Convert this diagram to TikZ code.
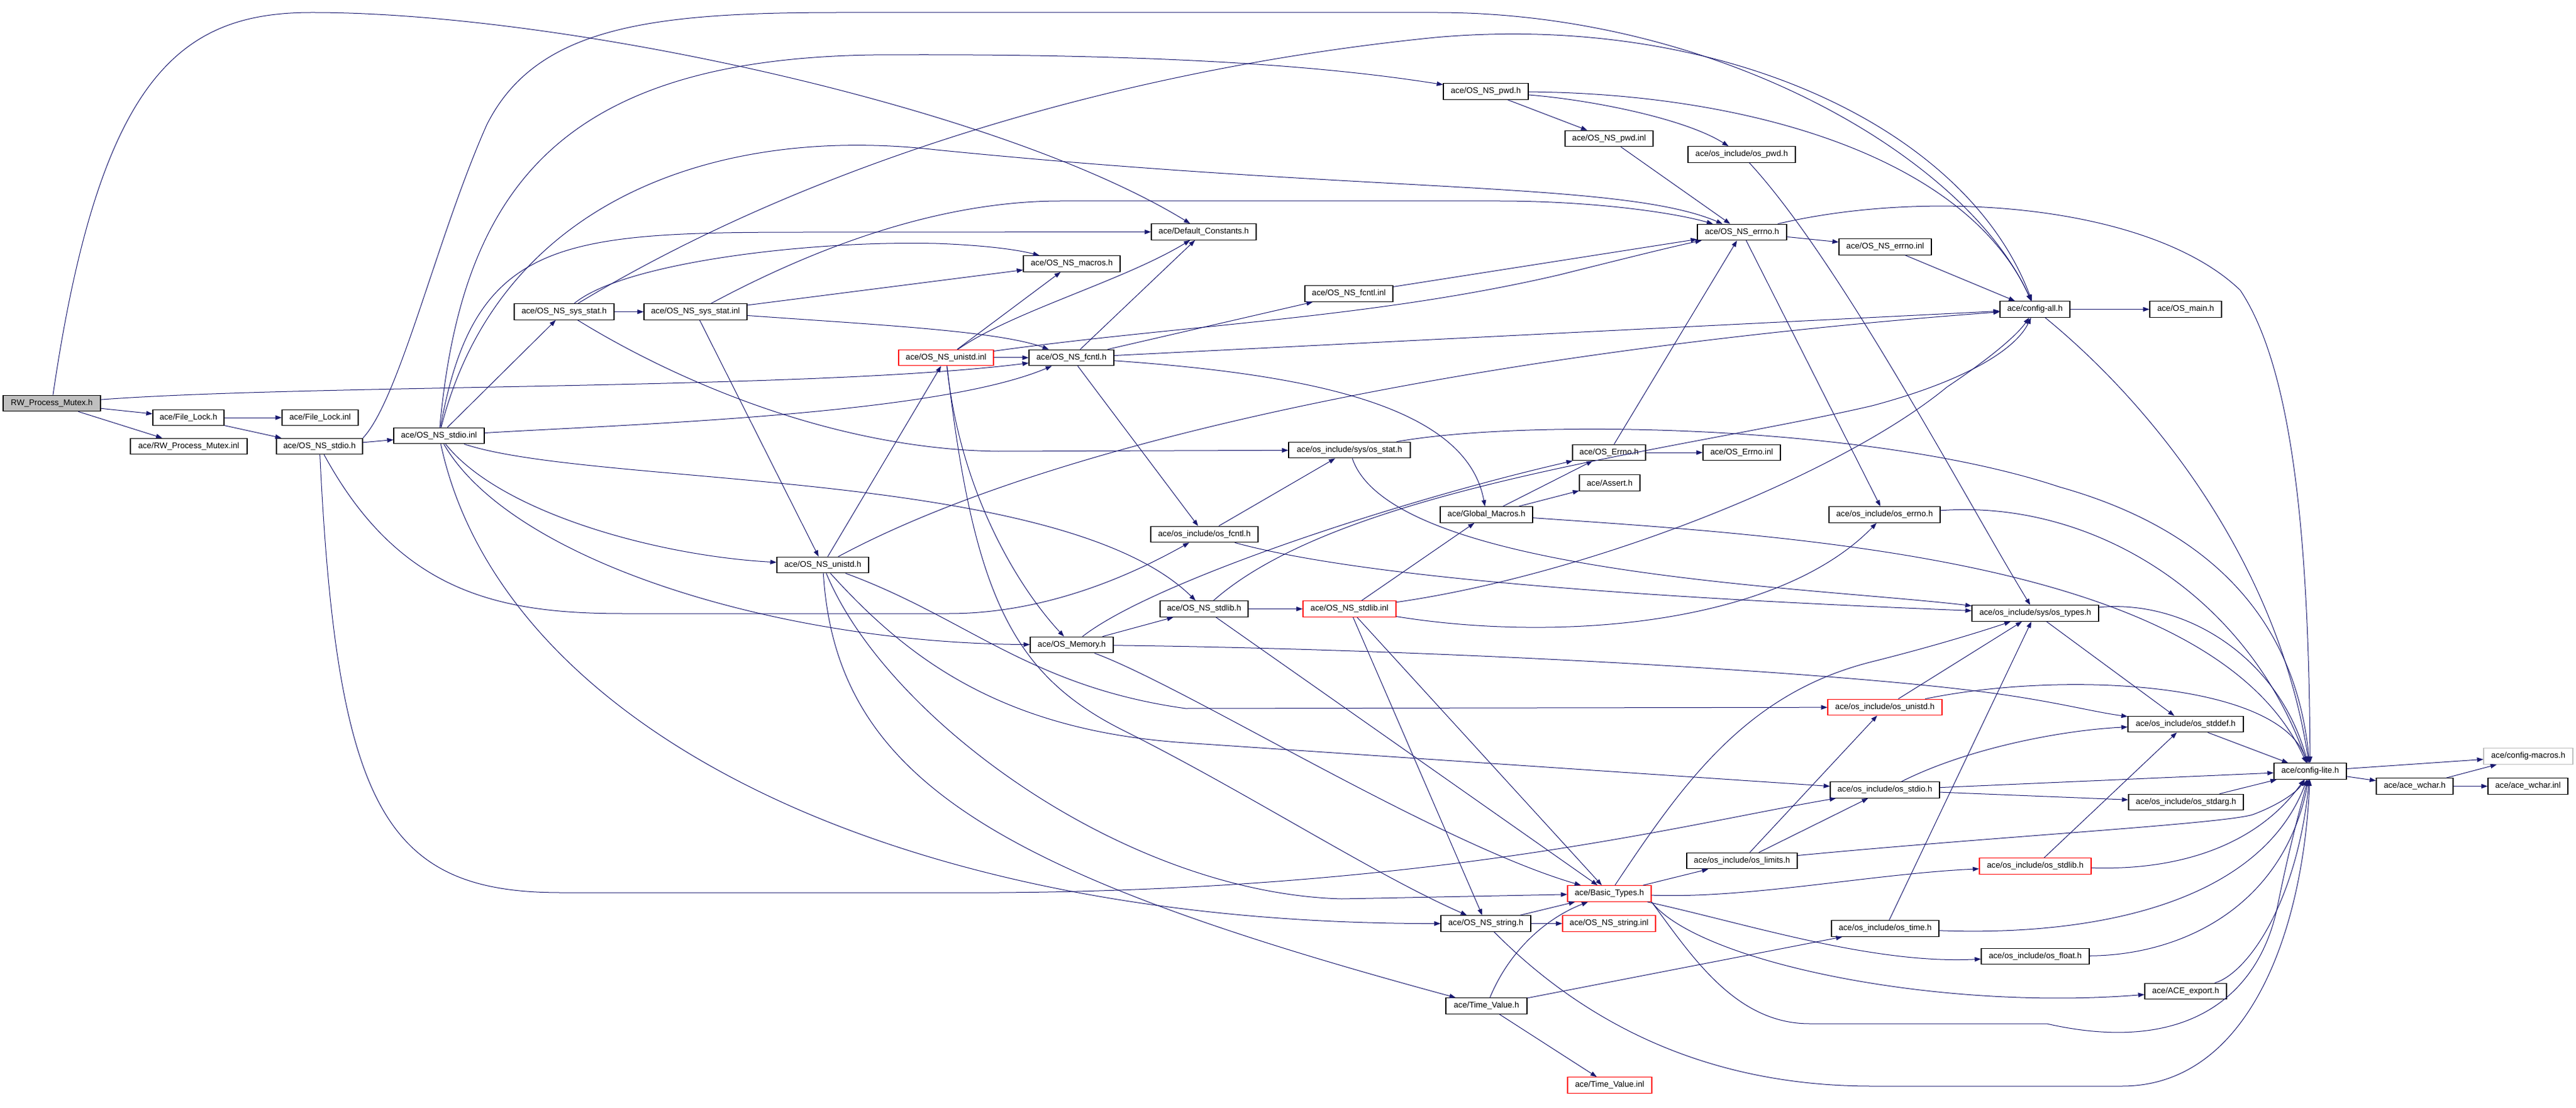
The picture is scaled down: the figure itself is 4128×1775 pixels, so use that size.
\documentclass[tikz,border=0pt]{standalone}
\usepackage{fontspec}
\setmainfont{Liberation Sans}
\usetikzlibrary{arrows.meta}
\definecolor{edgeblue}{RGB}{25,25,112}
\definecolor{rootgray}{RGB}{191,191,191}

\begin{document}
\begin{tikzpicture}[x=0.5pt,y=-0.5pt,>={Triangle[length=5pt,width=3.6pt]},
   file/.style={draw=black,line width=0.6pt,rectangle,inner sep=0pt,minimum height=12.75pt,font=\fontsize{6.6pt}{7pt}\selectfont},
   redfile/.style={file,draw=red},
   rootfile/.style={file,fill=rootgray},
   greyfile/.style={file,draw=rootgray},
   every edge/.style={draw=edgeblue,line width=0.5pt},
   inc/.style={->,draw=edgeblue,line width=0.5pt}]
   \useasboundingbox (0,0) rectangle (4128,1775);
   \node[rootfile,minimum width=78pt] (0) at (83,646) {RW\_Process\_Mutex.h};
   \node[file,minimum width=57pt] (1) at (302,669) {ace/File\_Lock.h};
   \node[file,minimum width=61pt] (2) at (513,669) {ace/File\_Lock.inl};
   \node[file,minimum width=93.5pt] (3) at (302.5,715) {ace/RW\_Process\_Mutex.inl};
   \node[file,minimum width=69pt] (4) at (512,715) {ace/OS\_NS\_stdio.h};
   \node[file,minimum width=72.5pt] (5) at (703.5,698) {ace/OS\_NS\_stdio.inl};
   \node[file,minimum width=80pt] (6) at (904,499.5) {ace/OS\_NS\_sys\_stat.h};
   \node[file,minimum width=82.5pt] (7) at (1114.5,499.5) {ace/OS\_NS\_sys\_stat.inl};
   \node[file,minimum width=77.5pt] (8) at (1717.5,422.5) {ace/OS\_NS\_macros.h};
   \node[file,minimum width=84pt] (9) at (1929,371.5) {ace/Default\_Constants.h};
   \node[redfile,minimum width=76pt] (10) at (1516,573) {ace/OS\_NS\_unistd.inl};
   \node[file,minimum width=68pt] (11) at (1717,573) {ace/OS\_NS\_fcntl.h};
   \node[file,minimum width=70.5pt] (12) at (2161.5,470.5) {ace/OS\_NS\_fcntl.inl};
   \node[file,minimum width=68pt] (13) at (2381,146.5) {ace/OS\_NS\_pwd.h};
   \node[file,minimum width=70.5pt] (14) at (2578.5,222) {ace/OS\_NS\_pwd.inl};
   \node[file,minimum width=86pt] (15) at (2791,247.5) {ace/os\_include/os\_pwd.h};
   \node[file,minimum width=71.5pt] (16) at (2791.5,372) {ace/OS\_NS\_errno.h};
   \node[file,minimum width=74pt] (17) at (3021,395.5) {ace/OS\_NS\_errno.inl};
   \node[file,minimum width=56pt] (18) at (3261,495.5) {ace/config-all.h};
   \node[file,minimum width=57.5pt] (19) at (3502.5,495.5) {ace/OS\_main.h};
   \node[file,minimum width=73.5pt] (20) at (1318.5,905) {ace/OS\_NS\_unistd.h};
   \node[file,minimum width=97.5pt] (21) at (2162.5,721) {ace/os\_include/sys/os\_stat.h};
   \node[file,minimum width=86pt] (22) at (1930,856) {ace/os\_include/os\_fcntl.h};
   \node[file,minimum width=58.5pt] (23) at (2578.5,725) {ace/OS\_Errno.h};
   \node[file,minimum width=62pt] (24) at (2791,725) {ace/OS\_Errno.inl};
   \node[file,minimum width=48.5pt] (25) at (2579.5,773.5) {ace/Assert.h};
   \node[file,minimum width=74pt] (26) at (2382,824.5) {ace/Global\_Macros.h};
   \node[file,minimum width=89pt] (27) at (3020,824.5) {ace/os\_include/os\_errno.h};
   \node[file,minimum width=70.5pt] (28) at (1929.5,975.5) {ace/OS\_NS\_stdlib.h};
   \node[redfile,minimum width=74.5pt] (29) at (2162.5,975.5) {ace/OS\_NS\_stdlib.inl};
   \node[file,minimum width=101.5pt] (30) at (3261.5,982.5) {ace/os\_include/sys/os\_types.h};
   \node[file,minimum width=66.5pt] (31) at (1717.5,1033) {ace/OS\_Memory.h};
   \node[redfile,minimum width=91.5pt] (32) at (3020.5,1133) {ace/os\_include/os\_unistd.h};
   \node[file,minimum width=92.5pt] (33) at (3502.5,1160) {ace/os\_include/os\_stddef.h};
   \node[file,minimum width=58pt] (34) at (3702,1235.5) {ace/config-lite.h};
   \node[greyfile,minimum width=71.5pt] (35) at (4051.5,1211.5) {ace/config-macros.h};
   \node[file,minimum width=61.5pt] (36) at (3869.5,1259.5) {ace/ace\_wchar.h};
   \node[file,minimum width=64pt] (37) at (4051,1259.5) {ace/ace\_wchar.inl};
   \node[file,minimum width=87.5pt] (38) at (3020.5,1265.5) {ace/os\_include/os\_stdio.h};
   \node[file,minimum width=92pt] (39) at (3503,1285) {ace/os\_include/os\_stdarg.h};
   \node[file,minimum width=88.5pt] (40) at (2791.5,1379) {ace/os\_include/os\_limits.h};
   \node[redfile,minimum width=89.5pt] (41) at (3261.5,1387.5) {ace/os\_include/os\_stdlib.h};
   \node[redfile,minimum width=67pt] (42) at (2579,1431.5) {ace/Basic\_Types.h};
   \node[file,minimum width=72pt] (43) at (2381,1479.5) {ace/OS\_NS\_string.h};
   \node[redfile,minimum width=74.5pt] (44) at (2578.5,1479.5) {ace/OS\_NS\_string.inl};
   \node[file,minimum width=86pt] (45) at (3021,1487.5) {ace/os\_include/os\_time.h};
   \node[file,minimum width=86.5pt] (46) at (3261.5,1532) {ace/os\_include/os\_float.h};
   \node[file,minimum width=65.5pt] (47) at (3502.5,1588) {ace/ACE\_export.h};
   \node[file,minimum width=65pt] (48) at (2382,1611.5) {ace/Time\_Value.h};
   \node[redfile,minimum width=67.5pt] (49) at (2579.5,1738.5) {ace/Time\_Value.inl};
   \path[->]
    (0) edge (1) (0) edge (3) (1) edge (2) (1) edge (4) (4) edge (5)
    (5) edge (6) (6) edge (7) (7) edge (8) (7) edge (20) (20) edge (10)
    (10) edge (11) (10) edge (8) (11) edge (12) (11) edge (9) (11) edge (22)
    (11) edge (18) (12) edge (16) (13) edge (14) (14) edge (16) (16) edge (17)
    (16) edge (27) (17) edge (18) (18) edge (19) (23) edge (24) (23) edge (16)
    (26) edge (23) (26) edge (25) (28) edge (29) (28) edge (42) (29) edge (26)
    (29) edge (43) (29) edge (42) (31) edge (28) (22) edge (21) (32) edge (30)
    (30) edge (33) (33) edge (34) (38) edge (34) (38) edge (39) (39) edge (34)
    (40) edge (32) (40) edge (38) (41) edge (33) (45) edge (30) (42) edge (40)
    (43) edge (42) (43) edge (44) (48) edge (45) (48) edge (49) (34) edge (35)
    (34) edge (36) (36) edge (37) (36) edge (35);
   \draw[inc] (0) .. controls (160,120) and (290,20) .. (500,20) .. controls (900,20) and (1600,170) .. (9);
   \draw[inc] (0) .. controls (500,615) and (1300,625) .. (11);
   \draw[inc] (4.north east) .. controls (640,640) and (700,380) .. (780,200) .. controls (860,40) and (1050,20) .. (1350,20) -- (2300,20) .. controls (2750,20) and (3150,250) .. (18);
   \draw[inc] (4) .. controls (640,950) and (800,983) .. (1000,983) -- (1520,983) .. controls (1700,983) and (1850,900) .. (22);
   \draw[inc] (4) .. controls (540,1300) and (620,1430) .. (900,1430) -- (1600,1430) .. controls (2300,1425) and (2700,1320) .. (38);
   \draw[inc] (5) .. controls (800,820) and (1050,890) .. (20);
   \draw[inc] (5) .. controls (820,900) and (1250,1030) .. (31);
   \draw[inc] (5) .. controls (950,780) and (1700,750) .. (28);
   \draw[inc] (5) .. controls (800,1150) and (1400,1480) .. (43);
   \draw[inc] (5) .. controls (1000,680) and (1500,665) .. (11);
   \draw[inc] (5) .. controls (800,320) and (1150,200) .. (1500,240) .. controls (2200,310) and (2600,290) .. (16);
   \draw[inc] (5) .. controls (740,300) and (900,95) .. (1400,88) .. controls (1900,85) and (2150,110) .. (13);
   \draw[inc] (5) .. controls (760,380) and (900,372) .. (1300,372) -- (9);
   \draw[inc] (6) .. controls (1300,260) and (1800,110) .. (2300,60) .. controls (2750,20) and (3150,200) .. (18);
   \draw[inc] (6) .. controls (1000,420) and (1300,385) .. (1500,390) .. controls (1580,393) and (1630,400) .. (8);
   \draw[inc] (6) .. controls (1100,620) and (1350,720) .. (1600,723) -- (21);
   \draw[inc] (7) .. controls (1300,400) and (1500,322) .. (1700,322) -- (2400,322) .. controls (2550,322) and (2680,340) .. (16);
   \draw[inc] (7) .. controls (1400,520) and (1600,530) .. (11);
   \draw[inc] (10) .. controls (1620,500) and (1800,450) .. (9);
   \draw[inc] (10) .. controls (1900,520) and (2200,510) .. (2500,440) .. controls (2600,415) and (2680,395) .. (16);
   \draw[inc] (10) .. controls (1540,800) and (1640,950) .. (31);
   \draw[inc] (10) .. controls (1560,950) and (1620,1080) .. (1800,1170) .. controls (2000,1270) and (2200,1400) .. (43);
   \draw[inc] (20) .. controls (1700,700) and (2400,560) .. (18);
   \draw[inc] (20) .. controls (1550,990) and (1650,1100) .. (1900,1135) -- (32);
   \draw[inc] (20) .. controls (1450,1050) and (1600,1170) .. (1900,1190) -- (38);
   \draw[inc] (20) .. controls (1420,1150) and (1800,1430) .. (2150,1440) -- (42);
   \draw[inc] (20) .. controls (1340,1250) and (1600,1400) .. (48);
   \draw[inc] (11) .. controls (2100,600) and (2350,650) .. (26);
   \draw[inc] (13) .. controls (2550,160) and (2700,190) .. (15);
   \draw[inc] (13) .. controls (2800,150) and (3150,250) .. (18);
   \draw[inc] (15) .. controls (2950,420) and (3150,800) .. (30);
   \draw[inc] (16) .. controls (3100,300) and (3450,330) .. (3590,465) .. controls (3680,600) and (3700,900) .. (34);
   \draw[inc] (18) .. controls (3450,650) and (3650,900) .. (34);
   \draw[inc] (21) .. controls (2230,920) and (2900,940) .. (30);
   \draw[inc] (21) .. controls (2450,670) and (3000,680) .. (3300,780) .. controls (3550,850) and (3680,1000) .. (34);
   \draw[inc] (22) .. controls (2200,930) and (2700,960) .. (30);
   \draw[inc] (26) .. controls (2900,860) and (3550,900) .. (34);
   \draw[inc] (27) .. controls (3350,800) and (3600,950) .. (34);
   \draw[inc] (28) .. controls (2150,780) and (2700,720) .. (3000,650) .. controls (3150,610) and (3230,560) .. (18);
   \draw[inc] (29) .. controls (2500,1030) and (2850,1000) .. (27);
   \draw[inc] (29) .. controls (2550,920) and (2950,760) .. (3120,620) .. controls (3180,580) and (3230,540) .. (18);
   \draw[inc] (30) .. controls (3500,960) and (3650,1050) .. (34);
   \draw[inc] (31) .. controls (1850,930) and (2250,800) .. (23);
   \draw[inc] (31) .. controls (2300,1040) and (2900,1075) .. (3150,1105) .. controls (3280,1120) and (3350,1140) .. (33);
   \draw[inc] (31) .. controls (1900,1100) and (2300,1350) .. (42);
   \draw[inc] (32) .. controls (3300,1075) and (3650,1090) .. (34);
   \draw[inc] (38) .. controls (3150,1200) and (3300,1170) .. (33);
   \draw[inc] (40) .. controls (3200,1340) and (3560,1320) .. (3610,1305) .. controls (3650,1290) and (3680,1270) .. (34);
   \draw[inc] (41) .. controls (3500,1395) and (3620,1350) .. (34);
   \draw[inc] (42) .. controls (2700,1250) and (2800,1110) .. (3000,1060) .. controls (3100,1035) and (3180,1010) .. (30);
   \draw[inc] (42) .. controls (2800,1440) and (3000,1400) .. (41);
   \draw[inc] (42) .. controls (2800,1480) and (3000,1545) .. (46);
   \draw[inc] (42.south east) .. controls (2720,1540) and (3100,1620) .. (47);
   \draw[inc] (42.south east) .. controls (2710,1530) and (2780,1640) .. (2900,1640) -- (3280,1640) .. controls (3500,1690) and (3620,1600) .. (3650,1450) .. controls (3670,1350) and (3690,1280) .. (34);
   \draw[inc] (43) .. controls (2550,1650) and (2750,1740) .. (3000,1740) -- (3400,1740) .. controls (3600,1740) and (3690,1500) .. (34);
   \draw[inc] (45) .. controls (3350,1500) and (3620,1450) .. (34);
   \draw[inc] (46) .. controls (3500,1530) and (3660,1450) .. (34);
   \draw[inc] (47) .. controls (3600,1560) and (3680,1450) .. (34);
   \draw[inc] (48) .. controls (2420,1520) and (2480,1470) .. (42);
\end{tikzpicture}
\end{document}
